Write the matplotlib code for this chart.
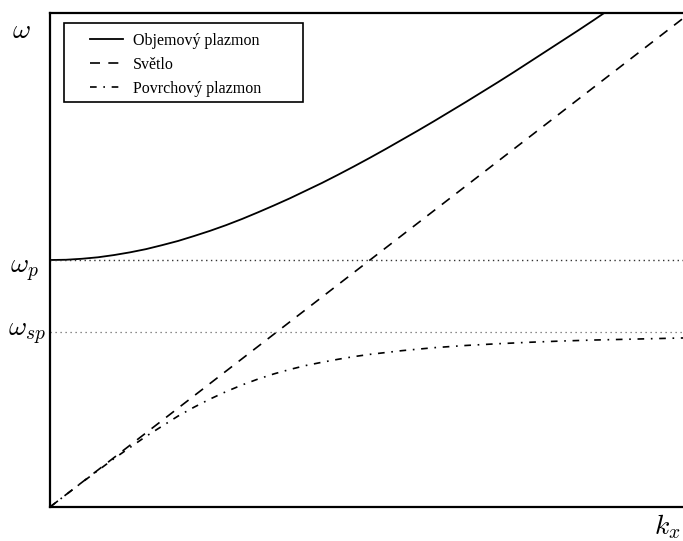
import matplotlib
matplotlib.use("Agg")
import matplotlib.pyplot as plt
from matplotlib.patches import Rectangle

plt.rcParams["mathtext.fontset"] = "cm"

# hodnoty (k v jednotkách omega_p / c, omega v jednotkách omega_p)
k_obj = [0.0, 0.05, 0.1, 0.15, 0.2, 0.25, 0.3, 0.35, 0.4, 0.45, 0.5, 0.55, 0.6, 0.65,
         0.7, 0.75, 0.8, 0.85, 0.9, 0.95, 1.0, 1.05, 1.1, 1.15, 1.2, 1.25, 1.3, 1.35,
         1.4, 1.45, 1.5, 1.55, 1.6, 1.65, 1.7, 1.75]
w_obj = [1.0, 1.001, 1.005, 1.011, 1.020, 1.031, 1.044, 1.060, 1.077, 1.097, 1.118, 1.141,
         1.166, 1.193, 1.221, 1.250, 1.281, 1.312, 1.345, 1.379, 1.414, 1.450, 1.487, 1.524,
         1.562, 1.601, 1.640, 1.680, 1.720, 1.761, 1.803, 1.845, 1.887, 1.929, 1.972, 2.016]

k_svetlo = [0.0, 2.0]
w_svetlo = [0.0, 2.0]

k_povrch = [0.0, 0.1, 0.2, 0.3, 0.4, 0.45, 0.5, 0.55, 0.6, 0.65, 0.7, 0.75, 0.8, 0.85,
            0.9, 0.95, 1.0, 1.1, 1.2, 1.3, 1.4, 1.5, 1.6, 1.7, 1.8, 1.9, 2.0]
w_povrch = [0.0, 0.0995, 0.196, 0.286, 0.368, 0.404, 0.437, 0.467, 0.494, 0.518, 0.539,
            0.557, 0.573, 0.586, 0.598, 0.609, 0.618, 0.633, 0.645, 0.654, 0.661, 0.667,
            0.672, 0.676, 0.679, 0.682, 0.685]

w_p = 1.0
w_sp = 0.707

fig = plt.figure(figsize=(6.83, 5.41), dpi=100)
W, H = 683, 541
ax = fig.add_axes([50 / W, (H - 507) / H, 640 / W, 494 / H])

ax.plot(k_obj, w_obj, color="black", lw=1.3, label="Objemový plazmon")
ax.plot(k_svetlo, w_svetlo, color="black", lw=1.2, linestyle=(0, (6, 5)), label="Světlo")
ax.plot(k_povrch, w_povrch, color="black", lw=1.2, linestyle=(0, (4, 4, 1, 4)),
        label="Povrchový plazmon")

ax.axhline(w_p, color="#333333", lw=1.0, linestyle=(0, (1, 2.5)))
ax.axhline(w_sp, color="#666666", lw=0.9, linestyle=(0, (1, 3)))

ax.set_xlim(0, 2)
ax.set_ylim(0, 2)
ax.set_xticks([])
ax.set_yticks([])
for s in ax.spines.values():
    s.set_linewidth(1.6)

# rámeček legendy kreslený zvlášť, aby byl širší než text
ax.add_patch(Rectangle((64 / W, 1 - 102 / H), (303 - 64) / W, (102 - 23) / H,
                       transform=fig.transFigure, facecolor="white",
                       edgecolor="black", lw=1.2, zorder=4, clip_on=False))
leg = ax.legend(loc="upper left", bbox_to_anchor=(90 / W, 1 - 33 / H),
                bbox_transform=fig.transFigure,
                prop={"family": "Liberation Serif", "size": 11.5},
                frameon=False, handlelength=2.05, handletextpad=0.65, borderpad=0,
                labelspacing=0.5, borderaxespad=0)
leg.set_zorder(5)

# popisky os
fig.text(12 / W, 1 - 30 / H, r"$\omega$", fontsize=20, va="center", ha="left")
fig.text(10 / W, 1 - 270 / H, r"$\omega_p$", fontsize=20, va="center", ha="left")
fig.text(8 / W, 1 - 333 / H, r"$\omega_{sp}$", fontsize=20, va="center", ha="left")
fig.text(681 / W, 1 - 527 / H, r"$k_x$", fontsize=20, va="center", ha="right")

fig.savefig("out.png", dpi=100)
